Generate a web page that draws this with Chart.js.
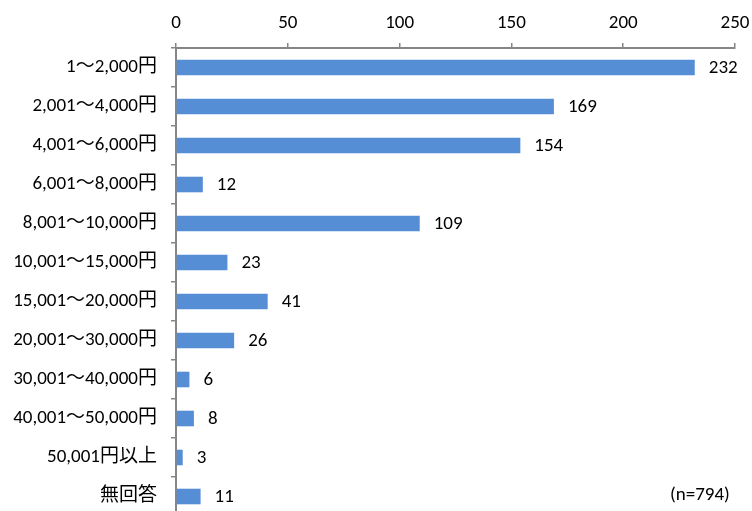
<!DOCTYPE html>
<html>
<head>
<meta charset="utf-8">
<script src="https://cdn.jsdelivr.net/npm/chart.js@4/dist/chart.umd.min.js"></script>
<style>
  html, body { margin: 0; padding: 0; background: #fff; overflow: hidden; }
  canvas { display: block; }
</style>
</head>
<body>
<canvas id="priceChart" width="752" height="516"></canvas>
<script>
const categories = [
  '1～2,000円', '2,001～4,000円', '4,001～6,000円', '6,001～8,000円',
  '8,001～10,000円', '10,001～15,000円', '15,001～20,000円', '20,001～30,000円',
  '30,001～40,000円', '40,001～50,000円', '50,001円以上', '無回答'
];
const counts = [232, 169, 154, 12, 109, 23, 41, 26, 6, 8, 3, 11];
const xTicks = [0, 50, 100, 150, 200, 250];
const sampleNote = '(n=794)';

const FONT = "Carlito, Lato, 'Noto Sans CJK JP', sans-serif";
const AXIS = '#868686';

// === 値ラベルと (n=794) ===
const valueLabels = {
  id: 'valueLabels',
  afterDatasetsDraw(chart) {
    const ctx = chart.ctx;
    const meta = chart.getDatasetMeta(0);
    ctx.save();
    ctx.font = '19px ' + FONT;
    ctx.fillStyle = '#000';
    ctx.textBaseline = 'middle';
    ctx.textAlign = 'left';
    meta.data.forEach((bar, i) => {
      ctx.fillText(String(counts[i]), bar.x + 14, bar.y + 1);
    });
    const last = meta.data[meta.data.length - 1];
    ctx.fillText(sampleNote, 670, last.y - 1);
    ctx.restore();
  }
};

new Chart(document.getElementById('priceChart'), {
  type: 'bar',
  data: {
    labels: categories,
    datasets: [{
      data: counts,
      backgroundColor: '#558ed5',
      borderWidth: 0,
      barPercentage: 0.4,
      categoryPercentage: 1.0
    }]
  },
  options: {
    indexAxis: 'y',
    responsive: false,
    animation: false,
    layout: { padding: { left: 0, right: 17, top: 0, bottom: 0 } },
    plugins: { legend: { display: false }, tooltip: { enabled: false } },
    scales: {
      x: {
        position: 'top',
        min: 0,
        max: 250,
        afterBuildTicks: (scale) => { scale.ticks = xTicks.map(v => ({ value: v })); },
        afterFit: (scale) => {
          scale.height = 48;
          scale.paddingRight = 0;
          scale.paddingLeft = 0;
        },
        border: { display: true, color: AXIS, width: 2 },
        grid: { drawOnChartArea: false, drawTicks: true, tickLength: 5, color: AXIS, lineWidth: 1.5 },
        ticks: { color: '#000', font: { family: FONT, size: 19 }, padding: 8 }
      },
      y: {
        afterFit: (scale) => {
          scale.width = 176;
          scale.paddingTop = 0;
          scale.paddingBottom = 0;
        },
        border: { display: true, color: AXIS, width: 2 },
        grid: { offset: true, drawOnChartArea: false, drawTicks: true, tickLength: 5, color: AXIS, lineWidth: 1.5 },
        ticks: { color: '#000', font: { family: FONT, size: 19 }, padding: 14, autoSkip: false }
      }
    }
  },
  plugins: [valueLabels]
});
</script>
</body>
</html>
